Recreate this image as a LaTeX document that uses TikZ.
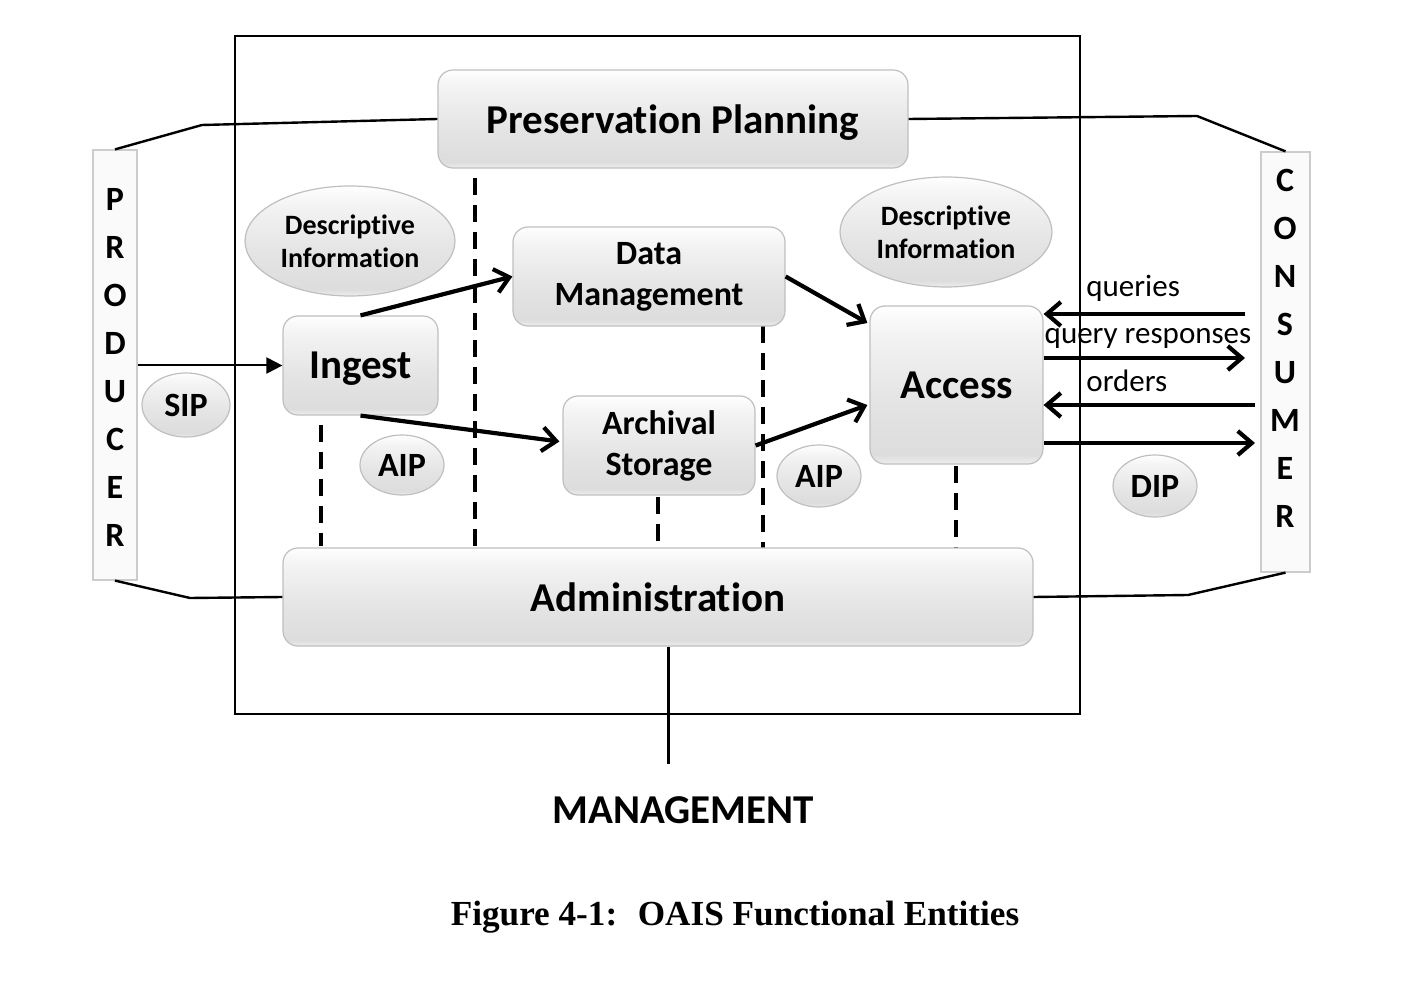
\documentclass[tikz,border=0pt]{standalone}
\usepackage{fontspec}
\setmainfont{Carlito}[Ligatures={NoCommon,NoContextual}]
\newfontfamily\capfont{Liberation Serif}
\usetikzlibrary{arrows.meta,shapes.geometric,calc}
\pgfdeclareverticalshading{boxshade}{100bp}{color(0bp)=(gray!14); color(25bp)=(gray!14); color(28bp)=(gray!27); color(45bp)=(gray!21); color(65bp)=(gray!10); color(72bp)=(gray!4); color(75bp)=(white); color(100bp)=(white)}
\tikzset{
  box/.style={rounded corners=7.5pt, draw=gray!50, line width=0.6pt, shading=boxshade, align=center, inner sep=0pt, font=\bfseries\fontsize{20.5}{20.5}\selectfont},
  smallbox/.style={box, font=\bfseries\fontsize{17}{20.5}\selectfont},
  ell/.style={ellipse, draw=gray!50, line width=0.6pt, shading=boxshade, align=center, inner sep=0pt, font=\bfseries\fontsize{17}{20}\selectfont},
  bar/.style={draw=gray!40, line width=0.6pt, fill=gray!4, inner sep=0pt},
  conn/.style={line width=1.5pt},
  side/.style={line width=1.2pt},
  arr/.style={line width=2.1pt, -{Straight Barb[length=7pt,width=12pt]}},
  dashline/.style={line width=2pt, dash pattern=on 8.5pt off 5pt},
  lbl/.style={font=\fontsize{15.5}{17}\selectfont, inner sep=0pt},
  vert/.style={font=\bfseries\fontsize{17}{24}\selectfont, align=center, inner sep=0pt}
}
\begin{document}
\begin{tikzpicture}[x=0.5pt,y=-0.5pt]
\useasboundingbox (0,0) rectangle (1418,988);
% outer frame
\draw[line width=1.2pt] (235,36) rectangle (1080,714);
% coordinates
\coordinate (ppl) at (202,125);
\coordinate (ppr) at (1197,116);
\coordinate (adl) at (190,598);
\coordinate (adr) at (1188,595);
\coordinate (mg) at (668,764);
\coordinate (q1) at (1245,314);
\coordinate (q2) at (1245,358);
\coordinate (q3) at (1255,405);
\coordinate (q4) at (1255,443);
% dashed lines (behind boxes)
\draw[dashline] (475,178) -- (475,546);
\draw[dashline] (321,425) -- (321,546);
\draw[dashline] (658,497) -- (658,548);
\draw[dashline] (763,326) -- (763,560);
\draw[dashline] (956,466) -- (956,548);
% bars
\node[bar, minimum width=22pt, minimum height=215pt] (Producer) at (115,365) {};
\node[bar, minimum width=24.5pt, minimum height=210pt] (Consumer) at (1285.5,362) {};
\node[vert] (ptext) at (115,367.5) {P\\R\\O\\D\\U\\C\\E\\R};
\node[vert] (ctext) at (1285,348.5) {C\\O\\N\\S\\U\\M\\E\\R};
% boxes
\node[box, text depth=0pt, minimum width=235pt, minimum height=49pt] (PP) at (673,119) {Preservation Planning};
\node[smallbox, minimum width=136pt, minimum height=49.5pt] (DM) at (649,276.5) {Data\\Management};
\node[box, text depth=0pt, minimum width=77.5pt, minimum height=49.5pt] (Ingest) at (360.5,365.5) {Ingest};
\node[smallbox, minimum width=96pt, minimum height=49.5pt] (AS) at (659,445.5) {Archival\\Storage};
\node[box, minimum width=86.5pt, minimum height=79pt] (Access) at (956.5,385) {Access};
\node[box, minimum width=375pt, minimum height=49pt] (Admin) at (658,597) {Administration};
% ellipses
\node[ell, minimum width=105pt, minimum height=55pt, font=\bfseries\fontsize{14}{16.5}\selectfont] (DI1) at (350,241) {Descriptive\\Information};
\node[ell, minimum width=106pt, minimum height=55pt, font=\bfseries\fontsize{14}{16.5}\selectfont] (DI2) at (946,232) {Descriptive\\Information};
\node[ell, minimum width=44pt, minimum height=32pt] (SIP) at (186,405) {SIP};
\node[ell, minimum width=42pt, minimum height=30pt] (AIP1) at (402,465) {AIP};
\node[ell, minimum width=42pt, minimum height=31pt] (AIP2) at (819,476) {AIP};
\node[ell, minimum width=42pt, minimum height=31pt] (DIP) at (1155,486) {DIP};
% side lines
\draw[side] (PP.west) -- (ppl) -- (Producer.north);
\draw[side] (PP.east) -- (ppr) -- (Consumer.north);
\draw[side] (Admin.west) -- (adl) -- (Producer.south);
\draw[side] (Admin.east) -- (adr) -- (Consumer.south);
\draw[conn] (Admin.south -| mg) -- (mg);
% arrows
\draw[line width=1pt, -{Triangle[length=8pt,width=8pt]}] (Producer.east |- Ingest.west) -- (Ingest.west);
\draw[arr] (Ingest.north) -- (DM.west);
\draw[arr] (Ingest.south) -- ($(AS.west)+(-3,-4)$);
\draw[arr] (DM.east) -- ($(Access.west)+(-2,-62)$);
\draw[arr] (AS.east) -- ($(Access.west)+(-2,20)$);
\draw[arr] (q1) -- (Access.east |- q1);
\draw[arr] (Access.east |- q2) -- (q2);
\draw[arr] (q3) -- (Access.east |- q3);
\draw[arr] (Access.east |- q4) -- (q4);
% labels
\node[lbl, anchor=west] (lq) at (1086,288) {queries};
\node[lbl] (lqr) at (1148,338) {query responses};
\node[lbl, anchor=west] (lo) at (1086,381) {orders};
\node[font=\bfseries\fontsize{20.5}{22}\selectfont] (mgmt) at (683,810) {MANAGEMENT};
\node[font=\capfont\bfseries\fontsize{17.6}{20}\selectfont] (cap) at (735,917) {Figure 4-1:~ OAIS Functional Entities};
\end{tikzpicture}
\end{document}
